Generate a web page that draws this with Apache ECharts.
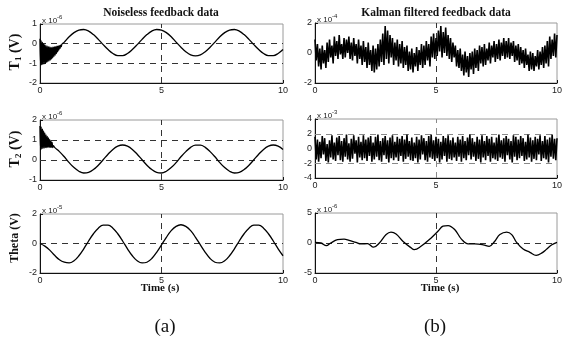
<!DOCTYPE html>
<html>
<head>
<meta charset="utf-8">
<script src="https://cdn.jsdelivr.net/npm/echarts@6/dist/echarts.min.js"></script>
<style>
  html, body { margin: 0; padding: 0; background: #fff; }
  #chart { width: 571px; height: 341px; }
</style>
</head>
<body>
<div id="chart"></div>
<script>
// ---- data ----
// (a) noiseless T1, x 1e-6 V  [time s, value]
const t1Noiseless = [
  [0, 0.25], [0.025, -1.1], [0.05, 0.15], [0.075, -1.08], [0.1, 0.08], [0.125, -1.05],
  [0.15, 0.0], [0.175, -1.02], [0.2, -0.05], [0.225, -1.0], [0.25, -0.1], [0.275, -0.95],
  [0.3, -0.12], [0.325, -0.92], [0.35, -0.15], [0.375, -0.88], [0.4, -0.17], [0.425, -0.84],
  [0.45, -0.18], [0.475, -0.78], [0.5, -0.18], [0.525, -0.72], [0.55, -0.18], [0.575, -0.65],
  [0.6, -0.17], [0.625, -0.58], [0.65, -0.15], [0.675, -0.5], [0.7, -0.13], [0.725, -0.42],
  [0.75, -0.11], [0.775, -0.33], [0.8, -0.1], [0.825, -0.24], [0.85, -0.07], [0.875, -0.15],
  [0.9, -0.03], [1.0, 0.08], [1.2, 0.35], [1.4, 0.56], [1.6, 0.69], [1.8, 0.72], [2.0, 0.64],
  [2.2, 0.46], [2.4, 0.22], [2.6, -0.05], [2.8, -0.3], [3.0, -0.5], [3.2, -0.61], [3.4, -0.61],
  [3.6, -0.5], [3.8, -0.3], [4.0, -0.05], [4.2, 0.22], [4.4, 0.46], [4.6, 0.64], [4.8, 0.72],
  [5.0, 0.69], [5.2, 0.56], [5.4, 0.35], [5.6, 0.08], [5.8, -0.18], [6.0, -0.41], [6.2, -0.57],
  [6.4, -0.62], [6.6, -0.57], [6.8, -0.41], [7.0, -0.18], [7.2, 0.08], [7.4, 0.35], [7.6, 0.56],
  [7.8, 0.69], [8.0, 0.72], [8.2, 0.64], [8.4, 0.46], [8.6, 0.22], [8.8, -0.05], [9.0, -0.3],
  [9.2, -0.5], [9.4, -0.61], [9.6, -0.61], [9.8, -0.5], [10, -0.3]
];

// (a) noiseless T2, x 1e-6 V
const t2Noiseless = [
  [0, 1.7], [0.025, 0.5], [0.05, 1.65], [0.075, 0.55], [0.1, 1.55], [0.125, 0.58],
  [0.15, 1.45], [0.175, 0.6], [0.2, 1.35], [0.225, 0.62], [0.25, 1.25], [0.275, 0.62],
  [0.3, 1.18], [0.325, 0.63], [0.35, 1.1], [0.375, 0.63], [0.4, 1.02], [0.425, 0.63],
  [0.45, 0.95], [0.475, 0.63], [0.5, 0.88], [0.525, 0.62], [0.55, 0.72],
  [0.6, 0.63], [0.8, 0.42], [1.0, 0.16], [1.2, -0.13], [1.4, -0.38], [1.6, -0.56], [1.8, -0.65],
  [2.0, -0.62], [2.2, -0.48], [2.4, -0.26], [2.6, 0.01], [2.8, 0.29], [3.0, 0.53], [3.2, 0.69],
  [3.4, 0.75], [3.6, 0.69], [3.8, 0.53], [4.0, 0.29], [4.2, 0.01], [4.4, -0.26], [4.6, -0.48],
  [4.8, -0.62], [5.0, -0.65], [5.2, -0.56], [5.4, -0.38], [5.6, -0.13], [5.8, 0.16], [6.0, 0.42],
  [6.2, 0.63], [6.4, 0.74], [6.6, 0.74], [6.8, 0.63], [7.0, 0.42], [7.2, 0.16], [7.4, -0.13],
  [7.6, -0.38], [7.8, -0.56], [8.0, -0.65], [8.2, -0.62], [8.4, -0.48], [8.6, -0.26], [8.8, 0.01],
  [9.0, 0.29], [9.2, 0.53], [9.4, 0.69], [9.6, 0.75], [9.8, 0.69], [10, 0.53]
];

// (a) noiseless Theta, x 1e-5 V
const thetaNoiseless = [
  [0, 0], [0.2, -0.18], [0.4, -0.45], [0.6, -0.8], [0.8, -1.1], [1.0, -1.27], [1.2, -1.32],
  [1.4, -1.17], [1.6, -0.83], [1.8, -0.36], [2.0, 0.17], [2.2, 0.66], [2.4, 1.04], [2.6, 1.24],
  [2.8, 1.24], [3.0, 1.04], [3.2, 0.66], [3.4, 0.17], [3.6, -0.36], [3.8, -0.83], [4.0, -1.17],
  [4.2, -1.32], [4.4, -1.27], [4.6, -1.02], [4.8, -0.6], [5.0, -0.1], [5.2, 0.42], [5.4, 0.87],
  [5.6, 1.16], [5.8, 1.27], [6.0, 1.16], [6.2, 0.87], [6.4, 0.42], [6.6, -0.1], [6.8, -0.6],
  [7.0, -1.02], [7.2, -1.27], [7.4, -1.32], [7.6, -1.17], [7.8, -0.83], [8.0, -0.36], [8.2, 0.17],
  [8.4, 0.66], [8.6, 1.04], [8.8, 1.24], [9.0, 1.24], [9.2, 1.04], [9.4, 0.66], [9.6, 0.17],
  [9.8, -0.36], [10, -0.83]
];

// (b) Kalman filtered, sampled every 0.05 s
const noisyStep = 0.05;

// T1, x 1e-4 V
const t1Kalman = [
  0.9, -0.5, 0.6, -0.9, 0.3, -1.1, 0.5, -0.7, 0.2, -1.0,
  0.7, -0.6, 0.9, -0.3, 0.5, -0.7, 1.1, -0.2, 0.8, -0.4,
  1.2, -0.1, 0.6, -0.4, 1.0, -0.3, 0.9, 0.0, 1.1, -0.4,
  0.7, -0.5, 1.0, -0.2, 0.6, -0.7, 0.9, -0.4, 0.5, -0.8,
  0.8, -0.6, 0.4, -1.0, 0.7, -0.8, 0.2, -1.2, 0.5, -1.3,
  0.3, -1.1, 0.6, -0.9, 0.9, -0.6, 1.3, -0.8, 1.8, -0.4,
  1.5, -0.7, 1.2, -0.3, 1.0, -0.8, 0.7, -0.5, 0.9, -0.9,
  0.6, -0.7, 0.8, -1.0, 0.4, -0.8, 0.5, -1.2, 0.1, -1.1,
  0.3, -1.3, 0.0, -0.9, 0.4, -1.2, 0.2, -0.8, 0.6, -1.0,
  0.5, -0.8, 0.8, -0.5, 0.6, -0.9, 1.1, -0.3, 1.3, -0.4,
  1.0, -0.2, 1.5, 0.1, 1.8, -0.3, 1.4, 0.0, 1.7, -0.2,
  1.2, -0.4, 1.0, -0.6, 0.7, -0.3, 0.5, -0.9, 0.2, -1.0,
  0.3, -1.2, -0.1, -1.5, 0.1, -1.3, -0.2, -1.6, 0.0, -1.1,
  0.1, -1.4, 0.3, -1.0, 0.2, -1.2, 0.5, -0.7, 0.4, -0.9,
  0.6, -0.8, 0.3, -0.5, 0.7, -0.7, 0.5, -0.3, 0.8, -0.6,
  0.6, -0.4, 0.9, -0.5, 0.7, -0.2, 1.0, -0.4, 0.8, -0.3,
  1.0, -0.4, 0.7, -0.2, 0.8, -0.6, 0.5, -0.5, 0.6, -0.8,
  0.4, -0.7, 0.2, -1.0, 0.3, -0.8, -0.1, -1.2, 0.1, -1.1,
  0.0, -1.2, -0.2, -0.9, 0.2, -1.1, 0.1, -0.8, 0.4, -1.0,
  0.5, -0.7, 0.8, -0.9, 1.1, -0.4, 0.9, -0.2, 1.3, -0.3,
  1.2
];

// T2, x 1e-3 V
const t2Kalman = [
  1.6, -1.5, 1.2, -1.8, 0.9, -1.3, 1.7, -0.8, 1.4, -1.7,
  0.6, -1.9, 1.1, -1.2, 1.8, -1.5, 0.8, -1.7, 1.5, -0.9,
  1.7, -1.6, 1.0, -1.8, 1.4, -1.1, 1.9, -1.5, 0.7, -1.8,
  1.3, -1.4, 1.8, -0.7, 1.1, -1.9, 1.6, -1.2, 0.9, -1.6,
  1.8, -1.3, 1.2, -1.7, 1.5, -1.0, 1.7, -1.8, 0.8, -1.5,
  1.6, -1.1, 1.9, -1.6, 1.0, -1.8, 1.4, -0.9, 1.7, -1.4,
  1.1, -1.9, 1.5, -1.3, 1.8, -1.6, 0.9, -1.2, 1.6, -1.7,
  1.3, -1.0, 1.7, -1.8, 1.2, -1.4, 1.9, -1.1, 1.0, -1.6,
  1.5, -1.7, 0.8, -1.3, 1.6, -1.9, 1.2, -1.5, 1.8, -0.8,
  1.4, -1.6, 1.0, -1.8, 1.7, -1.2, 1.9, -1.4, 1.1, -1.7,
  1.6, -1.3, 1.3, -1.9, 0.9, -1.5, 1.7, -1.0, 1.4, -1.8,
  1.8, -1.4, 1.1, -1.6, 1.5, -1.2, 0.8, -1.7, 1.6, -1.1,
  1.2, -1.8, 1.7, -1.3, 1.0, -1.6, 1.5, -0.9, 1.9, -1.5,
  1.4, -1.1, 0.9, -1.7, 1.6, -1.4, 1.2, -1.9, 1.8, -1.2,
  1.0, -1.6, 1.7, -1.0, 1.3, -1.8, 1.6, -1.3, 0.8, -1.5,
  1.5, -1.7, 1.9, -1.2, 1.1, -1.4, 1.4, -1.8, 1.7, -0.9,
  1.3, -1.5, 1.0, -1.9, 1.8, -1.1, 1.6, -1.6, 1.2, -1.3,
  1.7, -1.0, 1.4, -1.7, 0.9, -1.5, 1.9, -1.2, 1.5, -1.8,
  1.1, -1.4, 1.6, -1.6, 1.3, -0.8, 1.8, -1.7, 1.0, -1.3,
  1.7, -1.5, 1.2, -1.9, 1.5, -1.1, 1.9, -1.4, 1.3, -1.6,
  1.4
];

// Theta, x 1e-6 V  [time s, value]
const thetaKalman = [
  [0, 0.1], [0.25, 0], [0.47, -0.45], [0.65, 0], [0.93, 0.55], [1.2, 0.65], [1.41, 0.45],
  [1.69, 0.1], [1.9, -0.15], [2.17, -0.1], [2.42, -0.7], [2.66, 0], [2.94, 1.4], [3.14, 1.8],
  [3.35, 1.5], [3.63, 0.3], [3.97, -0.8], [4.1, -1.1], [4.38, -0.55], [4.8, 0.85], [5.08, 1.95],
  [5.29, 2.8], [5.5, 2.9], [5.78, 2.2], [6.05, 0.65], [6.33, -0.15], [6.6, -0.15], [6.95, -0.3],
  [7.2, -0.55], [7.43, 0.3], [7.64, 1.4], [7.92, 1.8], [8.13, 1.4], [8.33, 0.1], [8.6, -1.0],
  [8.88, -1.55], [9.14, -2.05], [9.38, -1.65], [9.58, -1.0], [9.79, -0.3], [10, 0.1]
];

const xTicks = [0, 5, 10];

// ---- chart ----
const toPairs = (vals) => vals.map((v, i) => [+(i * noisyStep).toFixed(2), v]);

const SERIF = '"Liberation Serif", "DejaVu Serif", serif';
const SANS = '"Liberation Sans", Arial, sans-serif';

const panels = [
  { left: 40, top: 24, width: 243, height: 59, data: t1Noiseless, min: -2, max: 1, interval: 1, hLines: [0, -1], exp: '-6', noisy: false },
  { left: 315, top: 23, width: 242, height: 60, data: toPairs(t1Kalman), min: -2, max: 2, interval: 2, hLines: [], exp: '-4', noisy: true },
  { left: 40, top: 120, width: 243, height: 60, data: t2Noiseless, min: -1, max: 2, interval: 1, hLines: [1, 0], exp: '-6', noisy: false },
  { left: 315, top: 119, width: 242, height: 59, data: toPairs(t2Kalman), min: -4, max: 4, interval: 2, hLines: [2, -2], exp: '-3', noisy: true, grey: true },
  { left: 40, top: 214, width: 243, height: 59, data: thetaNoiseless, min: -2, max: 2, interval: 2, hLines: [0], exp: '-5', noisy: false },
  { left: 315, top: 213, width: 242, height: 60, data: thetaKalman, min: -5, max: 5, interval: 5, hLines: [0], exp: '-6', noisy: false }
];

const grids = [], xAxes = [], yAxes = [], series = [], texts = [];

panels.forEach((p, i) => {
  grids.push({
    left: p.left, top: p.top, width: p.width, height: p.height,
    show: true, borderColor: '#9a9a9a', borderWidth: 1, backgroundColor: 'transparent'
  });
  xAxes.push({
    gridIndex: i, type: 'value', min: 0, max: 10, interval: 5,
    axisLine: { onZero: false, lineStyle: { color: '#111', width: 1 } },
    axisTick: { inside: true, length: 3, lineStyle: { color: '#111' } },
    axisLabel: { fontSize: 9, fontFamily: SANS, color: '#222', margin: 3,
      formatter: (v) => xTicks.includes(v) ? String(v) : '' },
    splitLine: { show: false }
  });
  yAxes.push({
    gridIndex: i, type: 'value', min: p.min, max: p.max, interval: p.interval,
    axisLine: { show: true, onZero: false, lineStyle: { color: '#111', width: 1 } },
    axisTick: { show: true, inside: true, length: 3, lineStyle: { color: '#111' } },
    axisLabel: { fontSize: 9, fontFamily: SANS, color: '#222', margin: 3 },
    splitLine: { show: false }
  });
  const marks = p.hLines.map((y) => ({ yAxis: y }));
  marks.push({ xAxis: 5 });
  series.push({
    type: 'line', xAxisIndex: i, yAxisIndex: i, data: p.data,
    showSymbol: false, smooth: p.noisy ? false : 0.4,
    lineStyle: { color: '#000', width: p.noisy ? 1.6 : 1.3 },
    animation: false, silent: true,
    markLine: {
      silent: true, symbol: ['none', 'none'], label: { show: false },
      lineStyle: { type: [6, 5], color: p.grey ? '#8a8a8a' : '#333', width: 1 },
      data: marks, animation: false, z: 1
    }
  });
  texts.push({
    type: 'text', x: p.left + 2, y: p.top + 1,
    style: {
      text: '{a|x 10}{s|' + p.exp + '}', textVerticalAlign: 'bottom', verticalAlign: 'bottom',
      rich: {
        a: { fontSize: 8, fontFamily: SANS, fill: '#222', color: '#222', lineHeight: 11, verticalAlign: 'bottom' },
        s: { fontSize: 6, fontFamily: SANS, fill: '#222', color: '#222', lineHeight: 11, verticalAlign: 'top' }
      }
    }
  });
});

const yLabel = (y, text) => ({
  type: 'text', x: 15, y: y, rotation: Math.PI / 2,
  style: {
    text: text, textAlign: 'center', align: 'center', textVerticalAlign: 'middle', verticalAlign: 'middle',
    rich: {
      b: { fontSize: 14, fontWeight: 'bold', fontFamily: SERIF, fill: '#111', color: '#111', lineHeight: 16 },
      t: { fontSize: 12, fontWeight: 'bold', fontFamily: SERIF, fill: '#111', color: '#111', lineHeight: 16 },
      sub: { fontSize: 9, fontWeight: 'bold', fontFamily: SERIF, fill: '#111', color: '#111', lineHeight: 16, verticalAlign: 'bottom' }
    }
  }
});

const plainText = (x, y, text, size, weight) => ({
  type: 'text', x: x, y: y,
  style: {
    text: text, textAlign: 'center', align: 'center', textVerticalAlign: 'middle', verticalAlign: 'middle',
    fontSize: size, fontWeight: weight, fontFamily: SERIF, fill: '#111'
  }
});

texts.push(
  plainText(161, 13, 'Noiseless feedback data', 11.5, 'bold'),
  plainText(436, 13, 'Kalman filtered feedback data', 11.5, 'bold'),
  yLabel(52, '{b|T}{sub|1}{b| (V)}'),
  yLabel(149, '{b|T}{sub|2}{b| (V)}'),
  yLabel(238, '{t|Theta (V)}'),
  plainText(160, 288, 'Time (s)', 11, 'bold'),
  plainText(440, 288, 'Time (s)', 11, 'bold'),
  plainText(165, 327, '(a)', 19, 'normal'),
  plainText(435, 327, '(b)', 19, 'normal')
);

const chart = echarts.init(document.getElementById('chart'), null, { renderer: 'canvas' });
chart.setOption({
  animation: false,
  backgroundColor: '#fff',
  grid: grids,
  xAxis: xAxes,
  yAxis: yAxes,
  series: series,
  graphic: texts
});
</script>
</body>
</html>
